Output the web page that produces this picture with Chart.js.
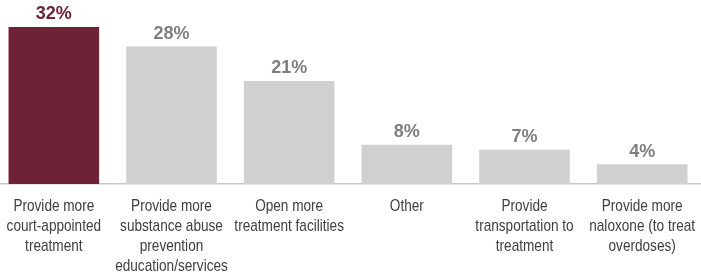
<!DOCTYPE html>
<html>
<head>
<meta charset="utf-8">
<script src="https://cdn.jsdelivr.net/npm/chart.js@4/dist/chart.umd.min.js"></script>
<style>
html,body{margin:0;padding:0;background:#fff;overflow:hidden;}
#wrap{position:absolute;left:-5px;top:0;width:706px;height:275px;}
</style>
</head>
<body>
<div id="wrap"><canvas id="c" width="706" height="275"></canvas></div>
<script>
const categories = [
  ["Provide more","court-appointed","treatment"],
  ["Provide more","substance abuse","prevention","education/services"],
  ["Open more","treatment facilities"],
  ["Other"],
  ["Provide","transportation to","treatment"],
  ["Provide more","naloxone (to treat","overdoses)"]
];
const values = [32, 28, 21, 8, 7, 4];
const valueLabels = ["32%","28%","21%","8%","7%","4%"];
const barColors = ["#6d2238","#d0d0d0","#d0d0d0","#d0d0d0","#d0d0d0","#d0d0d0"];
const labelColors = ["#6d2238","#7f7f7f","#7f7f7f","#7f7f7f","#7f7f7f","#7f7f7f"];

const valuePlugin = {
  id: 'valueLabels',
  afterDatasetsDraw(chart) {
    const ctx = chart.ctx;
    const meta = chart.getDatasetMeta(0);
    ctx.save();
    ctx.font = 'bold 18px "Liberation Sans", Arial, sans-serif';
    ctx.textAlign = 'center';
    ctx.textBaseline = 'middle';
    meta.data.forEach((bar, i) => {
      ctx.fillStyle = labelColors[i];
      ctx.fillText(valueLabels[i], bar.x, bar.y - 12.5);
    });
    ctx.restore();
  }
};

// Category labels drawn condensed (Arial Narrow look) at the x scale's own positions
const condensedLabels = {
  id: 'condensedLabels',
  afterDraw(chart) {
    const ctx = chart.ctx;
    const xs = chart.scales.x;
    const squeeze = 0.8;
    const lineH = 20;
    const top = xs.top + 12;
    ctx.save();
    ctx.font = '17px "Liberation Sans", Arial, sans-serif';
    ctx.fillStyle = '#404040';
    ctx.textAlign = 'center';
    ctx.textBaseline = 'middle';
    chart.data.labels.forEach((lines, i) => {
      const cx = xs.getPixelForValue(i);
      lines.forEach((t, j) => {
        ctx.save();
        ctx.translate(cx, top + lineH / 2 + j * lineH);
        ctx.scale(squeeze, 1);
        ctx.fillText(t, 0, 0);
        ctx.restore();
      });
    });
    ctx.restore();
  }
};

new Chart(document.getElementById('c'), {
  type: 'bar',
  data: {
    labels: categories,
    datasets: [{
      data: values,
      backgroundColor: barColors,
      borderWidth: 0,
      barPercentage: 0.77,
      categoryPercentage: 1.0
    }]
  },
  options: {
    responsive: false,
    animation: false,
    events: [],
    layout: { padding: 0 },
    plugins: { legend: { display: false }, tooltip: { enabled: false } },
    scales: {
      x: {
        grid: { display: false, drawTicks: false },
        border: { display: true, color: '#c8c8c8', width: 1.5 },
        ticks: { display: false },
        afterFit(scale) {
          scale.height = 91;
          scale.paddingLeft = 0;
          scale.paddingRight = 0;
        }
      },
      y: {
        display: false,
        min: 0,
        max: 37.5
      }
    }
  },
  plugins: [valuePlugin, condensedLabels]
});
</script>
</body>
</html>
